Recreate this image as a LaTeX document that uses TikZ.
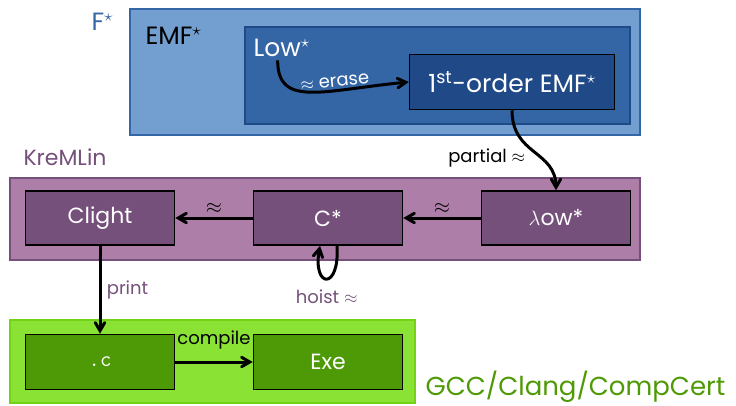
\documentclass[tikz,border=0pt]{standalone}
\usepackage{fontspec}
\setmainfont{Poppins}
\usepackage{xcolor}
\usetikzlibrary{arrows}

\definecolor{skyA}{HTML}{729FCF}
\definecolor{skyB}{HTML}{3465A4}
\definecolor{skyC}{HTML}{204A87}
\definecolor{plumA}{HTML}{AD7FA8}
\definecolor{plumB}{HTML}{75507B}
\definecolor{plumC}{HTML}{5C3566}
\definecolor{greenA}{HTML}{8AE234}
\definecolor{greenB}{HTML}{73D216}
\definecolor{greenC}{HTML}{4E9A06}

\begin{document}
\begin{tikzpicture}[x=1pt,y=-1pt,>=angle 60,node distance=228pt,
  big/.style={font=\fontsize{22}{26}\selectfont},
  huge/.style={font=\fontsize{25}{30}\selectfont},
  small/.style={font=\fontsize{18}{22}\selectfont},
  stage/.style={draw=black,line width=1.5pt,minimum width=149pt,minimum height=54pt,
    text=white,big},
  flow/.style={->,line width=3pt}]
 \useasboundingbox (0,0) rectangle (736,405);

 % the three tool boxes
 \draw[draw=skyB,fill=skyA,line width=1.2pt] (130,9) rectangle (640,135);
 \draw[draw=skyC,fill=skyB,line width=1.2pt] (245,27) rectangle (630,124);
 \draw[draw=plumB,fill=plumA,line width=1.2pt] (10,178) rectangle (640,260);
 \draw[draw=greenB,fill=greenA,line width=1.2pt] (10,320) rectangle (415,403);

 \node[huge,text=skyB,anchor=west] (fstar) at (88,22) {F$^\star$};
 \node[huge,anchor=west] (emf) at (142,36) {EMF$^\star$};
 \node[huge,text=white,anchor=west] (low) at (250,48) {Low$^\star$};
 \node[big,text=plumB,anchor=west] (kremlin) at (20,157) {KreMLin};
 \node[font=\fontsize{26}{31}\selectfont,text=greenC,anchor=west] (gcc) at (422,387)
   {GCC/Clang/CompCert};

 \node[stage,huge,fill=skyC,minimum width=205pt,minimum height=55pt] (first) at (512,82)
   {1\textsuperscript{st}-order EMF$^\star$};
 \node[stage,fill=plumB] (lowstar) at (556,218) {$\lambda$ow*};
 \node[stage,fill=plumB,left of=lowstar] (cstar) {C*};
 \node[stage,fill=plumB,left of=cstar] (clight) {Clight};
 \node[stage,fill=greenC,minimum height=55pt] (dotc) at (100,362) {\texttt{.c}};
 \node[stage,fill=greenC,minimum height=55pt,right of=dotc] (exe) {Exe};

 \draw [flow]
 ([xshift=-4pt]low.south) .. controls +(0,48) and +(-85,8) .. (first.west)
   node[pos=0.66,above,small,text=white,rotate=6,inner sep=2pt] {$\approx$ erase};
 \draw [flow]
 (first.south) .. controls +(0,45) and +(0,-40) .. (lowstar.north)
   node[pos=0.5,left,small,xshift=-4pt,yshift=-6pt] {partial $\approx$};
 \draw [flow]
 ([xshift=9pt]cstar.south) .. controls +(3,45) and +(-8,43) .. ([xshift=-8pt]cstar.south)
   node[pos=0.5,below,small,text=plumB,yshift=-6pt] {hoist $\approx$};

 \draw [flow]
 (lowstar) edge node[above,big] {$\approx$} (cstar)
 (cstar) edge node[above,big] {$\approx$} (clight)
 (clight) edge node[right,small,text=plumB,xshift=2pt] {print} (dotc)
 (dotc) edge node[above,small,yshift=8pt] {compile} (exe);
\end{tikzpicture}
\end{document}
